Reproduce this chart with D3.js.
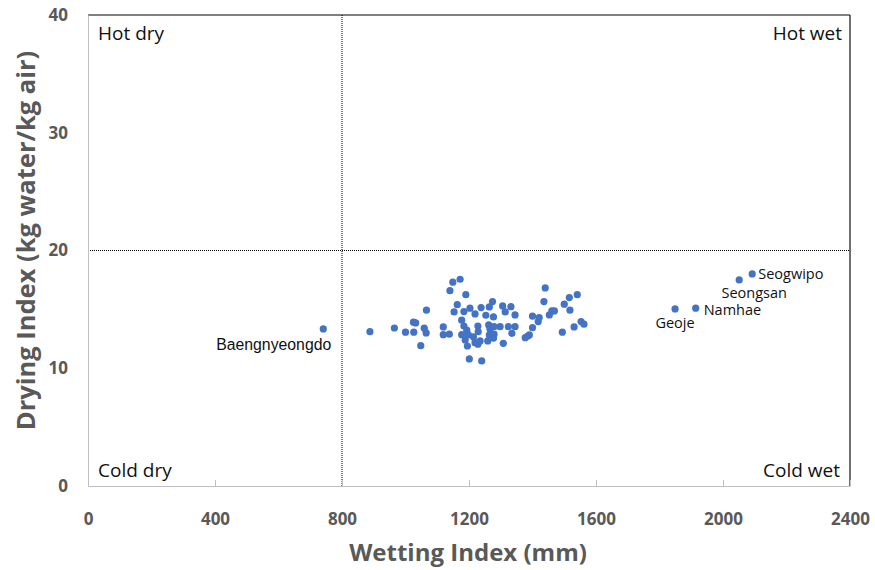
<!DOCTYPE html>
<html><head><meta charset="utf-8">
<script src="https://cdn.jsdelivr.net/npm/d3@7"></script>
<style>body{margin:0;background:#fff}svg{display:block}</style>
</head><body>
<svg id="c" width="875" height="570"></svg>
<script>
const xTicks = [0, 400, 800, 1200, 1600, 2000, 2400];
const yTicks = [0, 10, 20, 30, 40];
const wetting = [888,965,1000,1025,1032,1026,1059,1065,1066,1048,1119,1119,1138,1149,1172,1140,1190,1163,1153,1184,1203,1219,1238,1264,1274,1253,1277,1306,1332,1314,1345,1177,1184,1193,1198,1177,1188,1214,1219,1228,1235,1228,1229,1195,1262,1266,1264,1259,1279,1279,1277,1298,1324,1335,1345,1308,1201,1240,1440,1436,1400,1421,1418,1400,1385,1377,1390,1453,1461,1469,1500,1516,1541,1518,1494,1531,1553,1562];
const drying = [13.11,13.42,13.06,13.91,13.85,13.06,13.40,13.00,14.93,11.92,13.51,12.85,12.89,17.31,17.56,16.59,16.25,15.40,14.78,14.81,15.10,14.61,15.15,15.21,15.66,14.50,14.36,15.29,15.23,14.78,14.53,14.08,13.59,13.23,12.83,12.85,12.40,12.66,12.17,12.04,12.32,13.59,13.11,11.89,13.68,13.34,12.83,12.32,13.53,12.89,12.55,13.53,13.53,12.97,13.53,12.12,10.79,10.62,16.82,15.66,14.42,14.30,13.96,13.45,12.74,12.60,12.83,14.53,14.87,14.87,15.44,16.00,16.25,14.93,13.06,13.51,13.96,13.74];
const stationNames = ["Baengnyeongdo","Geoje","Namhae","Seongsan","Seogwipo"];
const stationWet = [741,1849,1914,2051,2092];
const stationDry = [13.34,15.04,15.10,17.50,18.01];
const quadrantNames = ["Hot dry","Hot wet","Cold dry","Cold wet"];
const thresholdWet = 800, thresholdDry = 20;

const svg = d3.select("#c");
const L = 88, R = 850, T = 15, B = 486;
const x = d3.scaleLinear().domain([0, 2400]).range([L, R]);
const y = d3.scaleLinear().domain([0, 40]).range([B, T]);
const fontB = "'Open Sans', 'Noto Sans', sans-serif";

// frame
svg.append("line").attr("x1",L).attr("x2",R).attr("y1",T).attr("y2",T).attr("stroke","#000").attr("stroke-width",1);
svg.append("line").attr("x1",R).attr("x2",R).attr("y1",T).attr("y2",B).attr("stroke","#222").attr("stroke-width",1.3);

// threshold lines
svg.append("line").attr("x1",x(thresholdWet)).attr("x2",x(thresholdWet)).attr("y1",T).attr("y2",B)
  .attr("stroke","#000").attr("stroke-width",1).attr("stroke-dasharray","1,1");
svg.append("line").attr("x1",L).attr("x2",R).attr("y1",y(thresholdDry)).attr("y2",y(thresholdDry))
  .attr("stroke","#000").attr("stroke-width",1).attr("stroke-dasharray","1,1");

// x axis
const xAxis = svg.append("g").attr("transform",`translate(0,${B})`)
  .call(d3.axisBottom(x).tickValues(xTicks).tickSize(-6).tickPadding(27).tickFormat(d3.format("d")));
xAxis.select(".domain").attr("stroke","#bfbfbf");
xAxis.selectAll(".tick line").attr("stroke","#bfbfbf");
xAxis.selectAll(".tick text").attr("fill","#595959").attr("font-size","17px").attr("font-weight","bold").attr("font-family",fontB);

// y axis
const yAxis = svg.append("g").attr("transform",`translate(${L},0)`)
  .call(d3.axisLeft(y).tickValues(yTicks).tickSize(0).tickPadding(20));
yAxis.select(".domain").attr("stroke","#bfbfbf");
yAxis.selectAll(".tick text").attr("fill","#595959").attr("font-size","17px").attr("font-weight","bold").attr("font-family",fontB);

// titles
svg.append("text").attr("x",(L+R)/2 - 1).attr("y",561).attr("text-anchor","middle")
  .attr("fill","#595959").attr("font-size","24px").attr("font-weight","bold").attr("font-family",fontB)
  .text("Wetting Index (mm)");
svg.append("text").attr("transform",`translate(35,${(T+B)/2 - 10}) rotate(-90)`).attr("text-anchor","middle")
  .attr("fill","#595959").attr("font-size","25.5px").attr("font-weight","bold").attr("font-family",fontB)
  .text("Drying Index (kg water/kg air)");

// quadrant labels
const qpos = [[L+10,40,"start"],[R-8,40,"end"],[L+10,477,"start"],[R-10,477,"end"]];
quadrantNames.forEach((q,i)=>{
  svg.append("text").attr("x",qpos[i][0]).attr("y",qpos[i][1]).attr("text-anchor",qpos[i][2])
    .attr("fill","#111").attr("font-size","19px").attr("font-family",fontB).text(q);
});

// points
const pts = wetting.map((w,i)=>({w, d: drying[i]}));
svg.append("g").selectAll("circle").data(pts).join("circle")
  .attr("cx",d=>x(d.w)).attr("cy",d=>y(d.d)).attr("r",3.6).attr("fill","#4472C4");

const st = stationNames.map((n,i)=>({n, w: stationWet[i], d: stationDry[i]}));
svg.append("g").selectAll("circle").data(st).join("circle")
  .attr("cx",d=>x(d.w)).attr("cy",d=>y(d.d)).attr("r",3.6).attr("fill","#4472C4");

// station labels offsets (dx, dy, anchor)
const lab = [[8,21,"end"],[0,19,"middle"],[8,7,"start"],[15,18,"middle"],[6,5,"start"]];
st.forEach((s,i)=>{
  svg.append("text").attr("x",x(s.w)+lab[i][0]).attr("y",y(s.d)+lab[i][1]).attr("text-anchor",lab[i][2])
    .attr("fill","#111").attr("font-size", i===0 ? "15.8px" : "14.5px")
    .attr("font-family", i===0 ? "'Liberation Sans', Arial, sans-serif" : fontB).text(s.n);
});
</script>
</body></html>
